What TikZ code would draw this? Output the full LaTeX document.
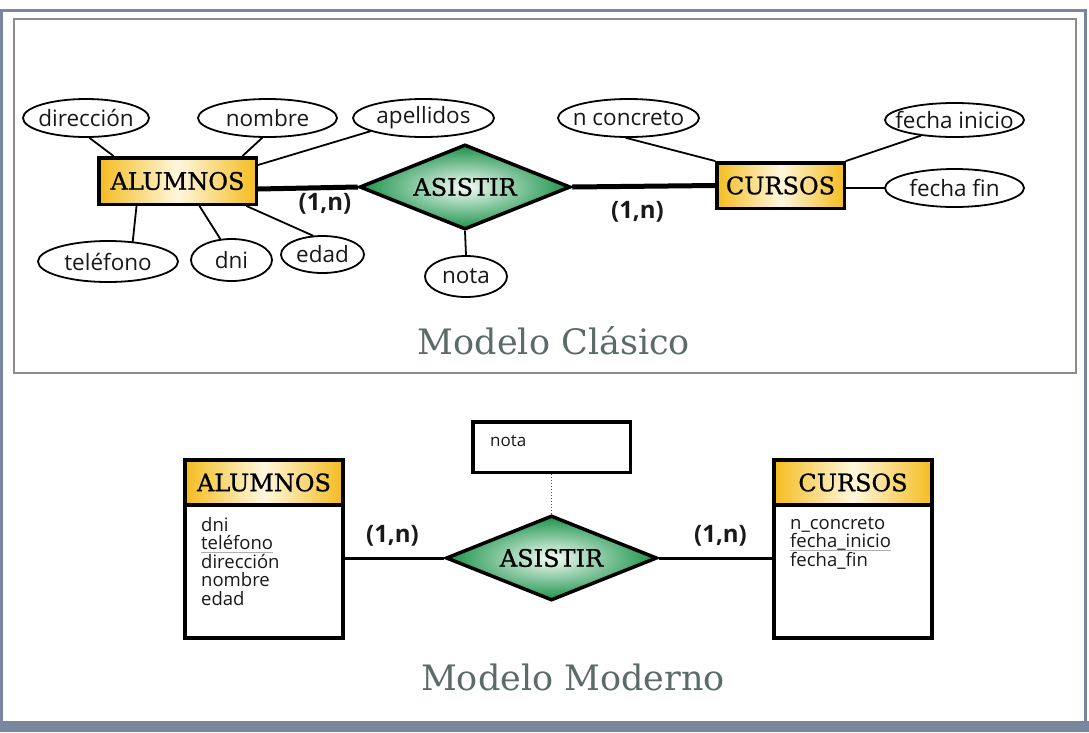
\documentclass[tikz,border=0pt]{standalone}
\usepackage{fontspec}
\usetikzlibrary{shapes.geometric,shadings}
\setmainfont{Open Sans}
\newfontfamily\slab{DejaVu Serif}
\newfontfamily\slabb{DejaVu Serif}[FakeBold=0.8]
\newfontfamily\osans{Open Sans}
\newcommand\myfs[1]{\fontsize{#1}{#1}\selectfont}
\newcommand\zw[1]{\makebox[0pt]{#1}}
\newcommand\gul[1]{\sbox0{#1}\rlap{\color{ulgrey}\rule[-3.5pt]{\wd0}{1.3pt}}\usebox0}
\definecolor{frameblue}{RGB}{120,135,158}
\definecolor{boxgrey}{RGB}{140,140,140}
\definecolor{gold}{RGB}{244,188,30}
\definecolor{lightgold}{RGB}{255,247,222}
\definecolor{rgreen}{RGB}{26,146,74}
\definecolor{rlight}{RGB}{244,252,246}
\definecolor{titlegrey}{RGB}{92,106,106}
\definecolor{ulgrey}{RGB}{175,175,175}
\definecolor{txt}{RGB}{25,25,25}
\pgfdeclarelayer{bg}
\pgfsetlayers{bg,main}
\tikzset{
  ent/.style={rectangle, draw=black, line width=3.5pt, left color=gold, right color=gold, middle color=lightgold, inner sep=0pt, font=\slabb\myfs{24}},
  rel/.style={diamond, draw=black, line width=3.5pt, inner color=rlight, outer color=rgreen, inner sep=0pt, minimum width=211pt, minimum height=85pt, font=\slabb\myfs{24}},
  attr/.style={ellipse, draw=black, line width=1.8pt, fill=white, inner sep=0pt, font=\osans\myfs{22.5}, text=txt},
  link/.style={line width=1.8pt, line cap=round},
  strong/.style={line width=5pt},
  mid/.style={line width=3pt},
  card/.style={font=\osans\bfseries\myfs{24}, inner sep=0pt, text=txt},
  ttl/.style={font=\slab\myfs{35}, text=titlegrey, inner sep=0pt},
  tbl/.style={rectangle, draw=black, line width=3.8pt, fill=white, inner sep=0pt, minimum width=158.5pt},
  tlist/.style={anchor=north west, inner sep=0pt, align=left, font=\osans\fontsize{18.5}{18.5}\selectfont, text=txt}
}
\begin{document}
\begin{tikzpicture}[x=1pt,y=-1pt]
\useasboundingbox (0,0) rectangle (1089,732);
\begin{pgfonlayer}{bg}
\fill[white] (0,0) rectangle (1089,732);
\draw[frameblue, line width=3pt] (1.5,722) -- (1.5,10.5) -- (1085.5,10.5) -- (1085.5,722);
\fill[frameblue] (0,721) rectangle (1089,732);
\draw[boxgrey, line width=2pt] (14,19) rectangle (1076,373);
\end{pgfonlayer}

% ===== Modelo Clasico =====
\node[ent, minimum width=157.5pt, minimum height=46.5pt] (A1) at (177.5,181) {ALUMNOS};
\node[rel] (R1) at (465,187) {\zw{ASISTIR}};
\node[ent, minimum width=127.5pt, minimum height=45.5pt] (C1) at (780.5,185.5) {CURSOS};

\node[attr, minimum width=126pt, minimum height=38pt] (dir) at (86,118) {\zw{dirección}};
\node[attr, minimum width=139pt, minimum height=38pt] (nom) at (267.5,118) {\zw{nombre}};
\node[attr, minimum width=141pt, minimum height=38pt] (ape) at (423.5,118) {\zw{apellidos}};
\node[attr, minimum width=141pt, minimum height=38pt] (ncon) at (628.5,118) {\zw{n concreto}};
\node[attr, minimum width=139pt, minimum height=34pt] (fini) at (954.5,120) {\zw{fecha inicio}};
\node[attr, minimum width=139pt, minimum height=38pt] (ffin) at (954.5,188) {\zw{fecha fin}};
\node[attr, minimum width=140pt, minimum height=41pt] (tel) at (108,261.5) {\zw{teléfono}};
\node[attr, minimum width=81pt, minimum height=42pt] (dni) at (231.5,260) {\zw{dni}};
\node[attr, minimum width=83pt, minimum height=37pt] (edad) at (322.5,254.5) {\zw{edad}};
\node[attr, minimum width=82pt, minimum height=41pt] (nota1) at (466,276.5) {\zw{nota}};

\node[card] (c1) at (325,204) {(1,n)};
\node[card] (c2) at (637.5,212) {(1,n)};
\node[ttl] (t1) at (554,341) {Modelo Clásico};

\begin{pgfonlayer}{bg}
\draw[link] (dir.-80) -- ([xshift=-64pt]A1.north);
\draw[link] (nom.-105) -- ([xshift=65pt]A1.north);
\draw[link] (ape.-166) -- ([yshift=16pt]A1.east);
\draw[link] ([xshift=-41pt]A1.south) -- (tel.39);
\draw[link] ([xshift=22pt]A1.south) -- (dni.118);
\draw[link] ([xshift=69pt]A1.south) -- (edad.117);
\draw[link] (R1.south) -- (nota1.north);
\draw[link] (ncon.-97) -- (C1.north west);
\draw[link] (fini.-155) -- (C1.north east);
\draw[link] (ffin.west) -- (ffin.west -| C1.east);
\draw[strong] ([yshift=-8pt]A1.east) -- (R1.west);
\draw[strong] (R1.east) -- (C1.west);
\end{pgfonlayer}

% ===== Modelo Moderno =====
\node[tbl, minimum height=133pt] (A2body) at (264,571.5) {};
\node[ent, line width=3.8pt, minimum width=158.5pt, minimum height=45pt] (A2head) at (264,482.5) {ALUMNOS};
\node[tlist] (A2list) at (201,517) {dni\\\gul{teléfono}\\dirección\\nombre\\edad};

\node[tbl, minimum height=133pt] (C2body) at (853,571.5) {};
\node[ent, line width=3.8pt, minimum width=158.5pt, minimum height=45pt] (C2head) at (853,482.5) {CURSOS};
\node[tlist] (C2list) at (790,517) {n\_concreto\\\gul{fecha\_inicio}\\fecha\_fin};

\node[rel] (R2) at (551.5,558) {\zw{ASISTIR}};
\node[rectangle, draw=black, line width=3.5pt, fill=white, minimum width=157.5pt, minimum height=50.5pt, inner sep=0pt] (nota2) at (551.5,447) {};
\node[anchor=base west, inner sep=0pt, font=\osans\myfs{17}, text=txt] (nota2t) at (490,446) {nota};

\node[card] (c3) at (392.5,536) {(1,n)};
\node[card] (c4) at (720.5,536) {(1,n)};
\node[ttl] (t2) at (573,677) {Modelo Moderno};

\begin{pgfonlayer}{bg}
\draw[mid] (R2.west -| A2body.east) -- (R2.west);
\draw[mid] (R2.east) -- (R2.east -| C2body.west);
\draw[line width=1pt, dotted, black!70] (nota2.south) -- (R2.north);
\end{pgfonlayer}
\end{tikzpicture}
\end{document}
